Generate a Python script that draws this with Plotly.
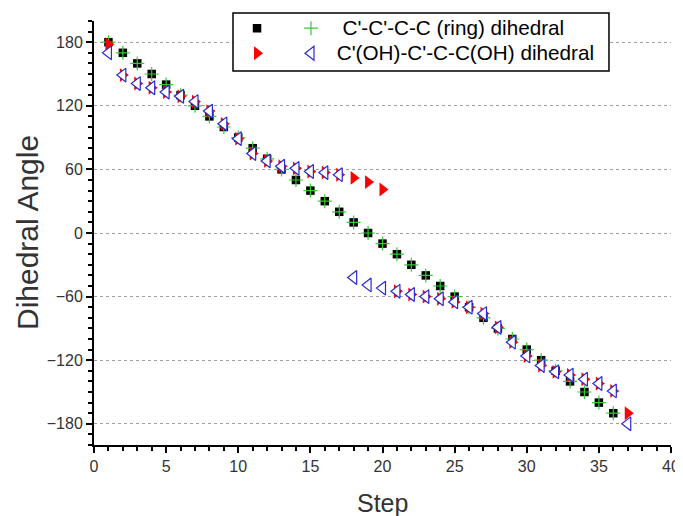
import plotly.graph_objects as go

# ---- data ----
steps_ring = list(range(1, 37))
ring_dihedral = [180, 170, 160, 150, 140, 130, 120, 110, 100, 90,
                 80, 70, 60, 50, 40, 30, 20, 10, 0, -10,
                 -20, -30, -40, -50, -60, -70, -80, -90, -100, -110,
                 -120, -130, -140, -150, -160, -170]

steps_oh = list(range(1, 38))
oh_dihedral_red = [178, 149, 141, 137, 133, 129, 124, 115, 103, 89,
                   75, 68, 63, 61, 58, 57, 55, 52, 48, 41,
                   -55, -58, -60, -62, -65, -70, -76, -89, -103, -116,
                   -125, -131, -134, -138, -142, -149, -170]
oh_dihedral_blue = [170, 149, 141, 137, 133, 129, 124, 115, 103, 89,
                    75, 68, 63, 61, 58, 57, 55, -42, -49, -52,
                    -55, -58, -60, -62, -65, -70, -76, -89, -103, -116,
                    -125, -131, -134, -138, -142, -149, -180]

name_ring = "C'-C'-C-C (ring) dihedral"
name_oh = "C'(OH)-C'-C-C(OH) dihedral"
x_title = "Step"
y_title = "Dihedral Angle"

FONT = "Arial, Liberation Sans, sans-serif"


def big(s, pre=""):
    return "<span style='font-size:20.7px'>" + pre + s + "</span>"


fig = go.Figure()
fig.add_trace(go.Scatter(
    x=steps_ring, y=ring_dihedral, mode="markers", name="\u00a0",
    legend="legend2",
    marker=dict(symbol="square", size=8.5, color="black", line=dict(width=0))))
fig.add_trace(go.Scatter(
    x=steps_ring, y=ring_dihedral, mode="markers", name=big(name_ring, "\u00a0\u00a0"),
    marker=dict(symbol="cross-thin", size=10, color="#33cc33",
                line=dict(width=1.2, color="#33cc33"))))
fig.add_trace(go.Scatter(
    x=steps_oh, y=oh_dihedral_red, mode="markers", name="\u00a0 ",
    legend="legend2",
    marker=dict(symbol="triangle-right", size=12, color="#ff0000", line=dict(width=0))))
fig.add_trace(go.Scatter(
    x=steps_oh, y=oh_dihedral_blue, mode="markers", name=big(name_oh, "\u00a0"),
    marker=dict(symbol="triangle-left", size=12, color="white",
                line=dict(width=1.2, color="#2a2ad0"))))

axis_common = dict(
    showline=True, linecolor="black", linewidth=2,
    ticks="outside", ticklen=6, tickwidth=2, tickcolor="black",
    zeroline=False, mirror=False, automargin=False,
    tickfont=dict(family=FONT, size=16, color="#333333"),
)

fig.update_xaxes(
    range=[0, 40], tick0=0, dtick=5, showgrid=False,
    minor=dict(dtick=1, ticklen=4, tickwidth=2, tickcolor="black", ticks="outside", showgrid=False),
    **axis_common)
fig.update_yaxes(
    range=[-200, 200], tick0=0, dtick=60, showgrid=True,
    gridcolor="#a0a0a0", griddash="dot", gridwidth=1,
    minor=dict(dtick=10, ticklen=4, tickwidth=2, tickcolor="black", ticks="outside", showgrid=False),
    **axis_common)

# axis titles
fig.add_annotation(text=x_title, xref="paper", yref="paper", x=0.5, y=-0.1368,
                   xanchor="center", yanchor="middle", showarrow=False,
                   font=dict(family=FONT, size=25, color="#333333"))
fig.add_annotation(text=y_title, xref="paper", yref="paper", x=-0.1161, y=0.5,
                   xanchor="center", yanchor="middle", showarrow=False, textangle=-90,
                   font=dict(family=FONT, size=30, color="#333333"))

# legend box
fig.add_shape(type="rect", xref="paper", yref="paper",
              x0=0.2409, x1=0.8925, y0=0.882, y1=1.0189,
              line=dict(color="black", width=1.5), fillcolor="white", layer="above")

legend_font = dict(family=FONT, size=17, color="black")
fig.update_layout(
    width=720, height=508,
    margin=dict(l=86, r=57, t=13, b=71, autoexpand=False),
    plot_bgcolor="white", paper_bgcolor="white",
    legend=dict(x=0.3414, y=0.8807, xanchor="left", yanchor="bottom",
                bgcolor="rgba(0,0,0,0)", borderwidth=0, font=legend_font,
                tracegroupgap=0),
    legend2=dict(x=0.2479, y=0.8807, xanchor="left", yanchor="bottom",
                 bgcolor="rgba(0,0,0,0)", borderwidth=0, font=legend_font,
                 tracegroupgap=0),
)

fig.write_html("out.html")
